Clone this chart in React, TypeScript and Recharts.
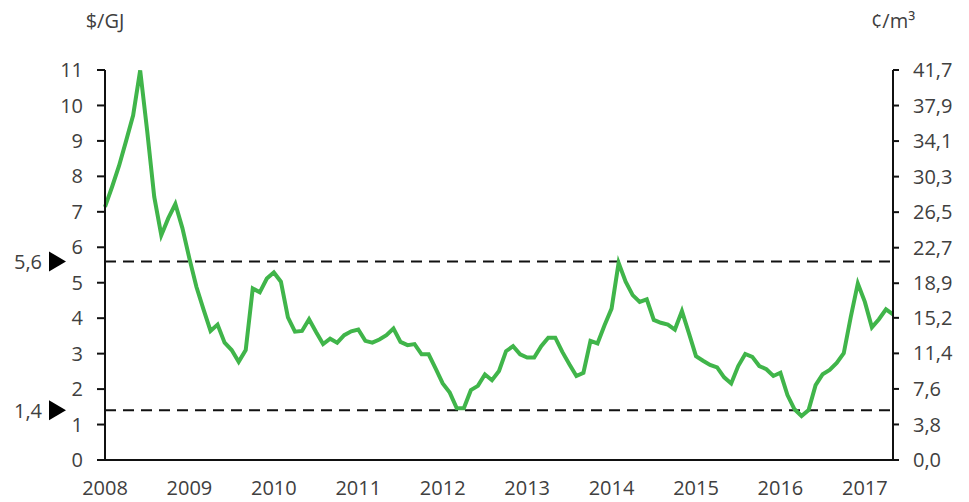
import React from 'react';
import { LineChart, Line, XAxis, YAxis, ReferenceLine } from 'recharts';

// monthly prices, $/GJ
const y2008 = [7.14, 7.7, 8.3, 9.0, 9.72, 10.99, 9.27, 7.42, 6.34, 6.82, 7.22, 6.54];
const y2009 = [5.68, 4.88, 4.25, 3.64, 3.82, 3.31, 3.1, 2.77, 3.1, 4.84, 4.73, 5.12];
const y2010 = [5.29, 5.03, 4.02, 3.62, 3.64, 3.97, 3.61, 3.27, 3.42, 3.31, 3.52, 3.63];
const y2011 = [3.68, 3.36, 3.31, 3.4, 3.52, 3.71, 3.33, 3.24, 3.27, 2.98, 2.98, 2.58];
const y2012 = [2.16, 1.9, 1.46, 1.46, 1.97, 2.09, 2.41, 2.25, 2.51, 3.07, 3.21, 2.98];
const y2013 = [2.89, 2.89, 3.21, 3.45, 3.45, 3.05, 2.7, 2.37, 2.46, 3.36, 3.29, 3.8];
const y2014 = [4.27, 5.56, 5.03, 4.65, 4.46, 4.53, 3.95, 3.87, 3.82, 3.68, 4.2, 3.57];
const y2015 = [2.93, 2.8, 2.68, 2.61, 2.33, 2.16, 2.65, 2.99, 2.91, 2.65, 2.56, 2.37];
const y2016 = [2.46, 1.83, 1.43, 1.24, 1.41, 2.11, 2.42, 2.54, 2.74, 3.01, 4.04, 4.98];
const y2017 = [4.46, 3.74, 3.97, 4.25, 4.11];

const years = ['2008', '2009', '2010', '2011', '2012', '2013', '2014', '2015', '2016', '2017'];
const leftTicks = [0, 1, 2, 3, 4, 5, 6, 7, 8, 9, 10, 11];
const rightTicks = [0, 3.8, 7.6, 11.4, 15.2, 18.9, 22.7, 26.5, 30.3, 34.1, 37.9, 41.7];
const upperBand = 5.6;
const lowerBand = 1.4;

const prices = [...y2008, ...y2009, ...y2010, ...y2011, ...y2012, ...y2013, ...y2014, ...y2015, ...y2016, ...y2017];
const data = prices.map((v, i) => ({ m: i, price: v }));
const yearTicks = years.map((_, i) => i * 12);

const GREEN = '#40b54a';
const TEXT = '#404040';
const FONT = '"Open Sans", sans-serif';

const comma = (v: number, digits = 0) => v.toFixed(digits).replace('.', ',');

function BandMarker(props: any) {
  const { viewBox, text } = props;
  if (!viewBox) return null;
  const x = viewBox.x;
  const y = viewBox.y;
  return (
    <g>
      <polygon points={`${x - 56},${y - 10} ${x - 39},${y} ${x - 56},${y + 10}`} fill="#000" />
      <text x={x - 63} y={y} textAnchor="end" dominantBaseline="central" fontSize={20} fill={TEXT} fontFamily={FONT}>
        {text}
      </text>
    </g>
  );
}

export default function App() {
  return (
    <div style={{ position: 'absolute', left: 0, top: 0, width: 969, height: 502, background: '#fff', fontFamily: FONT }}>
      <LineChart width={969} height={502} data={data} margin={{ top: 70, right: 0, left: 0, bottom: 12 }}>
        <XAxis
          dataKey="m"
          type="number"
          domain={[0, prices.length - 1]}
          ticks={yearTicks}
          tickFormatter={(v: number) => years[v / 12]}
          tickLine={false}
          tickMargin={15}
          height={30}
          axisLine={{ stroke: '#111', strokeWidth: 2 }}
          tick={{ fill: TEXT, fontSize: 20, fontFamily: FONT }}
          interval={0}
        />
        <YAxis
          yAxisId="left"
          width={105}
          domain={[0, 11]}
          ticks={leftTicks}
          interval={0}
          tickSize={8}
          tickMargin={14}
          axisLine={{ stroke: '#111', strokeWidth: 2 }}
          tickLine={{ stroke: '#111', strokeWidth: 2 }}
          tick={{ fill: TEXT, fontSize: 20, fontFamily: FONT }}
        />
        <YAxis
          yAxisId="right"
          orientation="right"
          type="number"
          width={76}
          domain={[0, 41.7]}
          allowDataOverflow
          ticks={rightTicks}
          interval={0}
          tickSize={6}
          tickMargin={14}
          tickFormatter={(v: number) => comma(v, 1)}
          axisLine={{ stroke: '#111', strokeWidth: 2 }}
          tickLine={{ stroke: '#111', strokeWidth: 2 }}
          tick={{ fill: TEXT, fontSize: 20, fontFamily: FONT }}
        />
        <ReferenceLine
          yAxisId="left"
          y={upperBand}
          stroke="#111"
          strokeWidth={2}
          strokeDasharray="11 7"
          label={<BandMarker text={comma(upperBand, 1)} />}
        />
        <ReferenceLine
          yAxisId="left"
          y={lowerBand}
          stroke="#111"
          strokeWidth={2}
          strokeDasharray="11 7"
          label={<BandMarker text={comma(lowerBand, 1)} />}
        />
        <Line
          yAxisId="left"
          type="linear"
          dataKey="price"
          stroke={GREEN}
          strokeWidth={4}
          dot={false}
          isAnimationActive={false}
        />
      </LineChart>
      <svg width={969} height={60} style={{ position: 'absolute', left: 0, top: 0, pointerEvents: 'none' }}>
        <text x={105} y={28} textAnchor="middle" fontSize={20} fill={TEXT} fontFamily={FONT}>$/GJ</text>
        <text x={893} y={28} textAnchor="middle" fontSize={20} fill={TEXT} fontFamily={FONT}>¢/m³</text>
      </svg>
    </div>
  );
}
